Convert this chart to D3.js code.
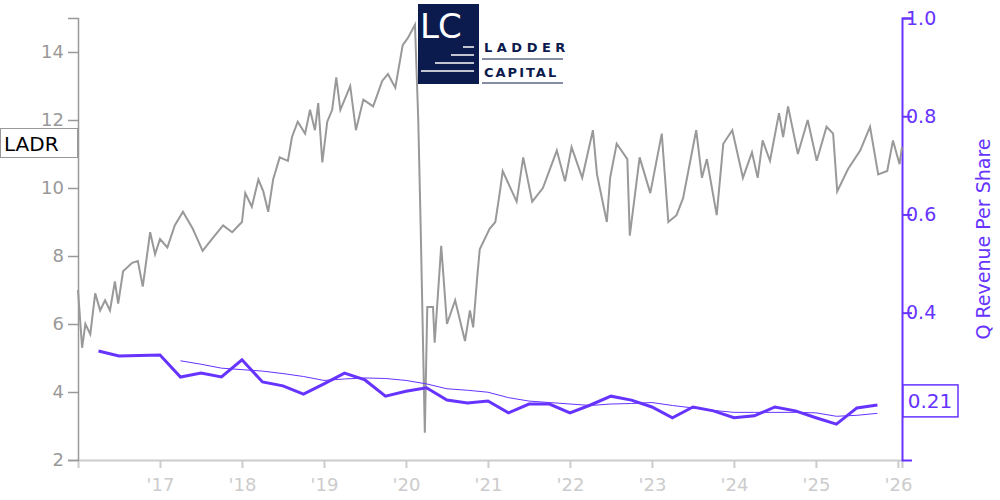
<!DOCTYPE html>
<html>
<head>
<meta charset="utf-8">
<script src="https://cdn.jsdelivr.net/npm/d3@7"></script>
<style>
  body { margin: 0; background: #fff; }
  text { font-family: "DejaVu Sans", sans-serif; }
</style>
</head>
<body>
<svg id="chart" width="1000" height="500"></svg>
<script>
// price (decimal year, close)
const priceYears = [2016.00,2016.05,2016.09,2016.15,2016.21,2016.27,2016.33,2016.39,2016.45,2016.49,2016.55,2016.66,2016.73,2016.79,2016.88,2016.94,
  2017.00,2017.09,2017.18,2017.28,2017.40,2017.52,2017.65,2017.77,2017.88,
  2018.00,2018.04,2018.12,2018.20,2018.26,2018.32,2018.38,2018.46,2018.56,2018.61,2018.68,2018.77,2018.83,2018.89,2018.93,2018.98,
  2019.04,2019.10,2019.15,2019.20,2019.32,2019.39,2019.48,2019.60,2019.71,2019.78,2019.87,2019.96,
  2020.02,2020.11,2020.15,2020.18,2020.21,2020.23,2020.26,2020.33,2020.35,2020.43,2020.50,2020.60,2020.72,2020.78,2020.82,2020.87,2020.90,
  2021.02,2021.09,2021.15,2021.18,2021.35,2021.43,2021.54,2021.67,2021.84,2021.94,
  2022.02,2022.15,2022.28,2022.33,2022.45,2022.49,2022.57,2022.70,2022.73,2022.85,2022.98,
  2023.12,2023.20,2023.30,2023.38,2023.54,2023.61,2023.67,2023.79,2023.87,2023.98,
  2024.11,2024.22,2024.29,2024.35,2024.44,2024.55,2024.60,2024.66,2024.78,2024.90,
  2025.01,2025.13,2025.21,2025.26,2025.39,2025.54,2025.66,2025.76,2025.87,2025.94,2026.02,2026.05];
const priceValues = [7.0,5.3,6.0,5.7,6.9,6.4,6.7,6.4,7.25,6.6,7.55,7.8,7.85,7.1,8.7,8.05,
  8.5,8.25,8.9,9.3,8.8,8.15,8.55,8.9,8.7,
  9.0,9.85,9.45,10.25,9.9,9.3,10.25,10.9,10.8,11.5,11.95,11.6,12.3,11.7,12.5,10.75,
  11.95,12.3,13.25,12.3,13.0,11.7,12.6,12.4,13.15,13.35,12.95,14.2,
  14.4,14.8,12.0,8.8,5.2,2.8,6.5,6.5,5.45,8.3,6.0,6.7,5.5,6.4,5.9,7.4,8.2,
  8.8,9.0,9.96,10.5,9.6,10.9,9.6,10.0,11.1,10.2,
  11.2,10.3,11.7,10.4,9.0,10.3,11.3,10.85,8.6,10.9,9.85,
  11.6,9.0,9.2,9.7,11.7,10.3,10.85,9.2,11.3,11.7,
  10.3,11.05,10.3,11.4,10.8,12.2,11.5,12.4,11.0,12.0,
  10.8,11.8,11.6,9.9,10.55,11.1,11.8,10.4,10.5,11.4,10.7,11.2];

// quarterly revenue per share
const revYears = [2016.25,2016.5,2016.75,2017.0,2017.25,2017.5,2017.75,2018.0,2018.25,2018.5,2018.75,2019.0,2019.25,2019.5,2019.75,
  2020.0,2020.25,2020.5,2020.75,2021.0,2021.25,2021.5,2021.75,2022.0,2022.25,2022.5,2022.75,2023.0,2023.25,2023.5,2023.75,
  2024.0,2024.25,2024.5,2024.75,2025.0,2025.25,2025.5,2025.75];
const revValues = [0.322,0.312,0.313,0.314,0.269,0.277,0.269,0.304,0.259,0.251,0.234,0.255,0.277,0.263,0.230,
  0.240,0.247,0.222,0.216,0.220,0.196,0.214,0.214,0.196,0.212,0.230,0.222,0.208,0.186,0.208,0.200,
  0.186,0.190,0.208,0.200,0.186,0.173,0.206,0.212];
// trailing average (thin line)
const avgYears = revYears.slice(4);
const avgValues = [0.302,0.295,0.287,0.284,0.281,0.276,0.270,0.262,0.265,0.267,0.266,0.262,0.255,0.245,0.242,0.238,0.227,
  0.220,0.217,0.214,0.211,0.214,0.215,0.217,0.211,0.206,0.201,0.197,0.197,0.197,0.197,0.196,0.189,0.191,0.195];

const leftTicks = [2, 4, 6, 8, 10, 12, 14];
const rightTicks = [0.2, 0.4, 0.6, 0.8, 1.0];
const yearTicks = [2017, 2018, 2019, 2020, 2021, 2022, 2023, 2024, 2025, 2026];
const lastRev = "0.21";

const PURPLE = "#6633ff", GREY = "#999";
const svg = d3.select("#chart");
const x = d3.scaleLinear().domain([2016, 2026.05]).range([78, 902]);
const yL = d3.scaleLinear().domain([2, 15]).range([460, 18]);
const yR = d3.scaleLinear().domain([0.1, 1.0]).range([460, 18]);

// bottom axis
const gx = svg.append("g").attr("transform", "translate(0,460)")
  .call(d3.axisBottom(x).tickValues(yearTicks).tickSize(8).tickFormat(d => "'" + String(d).slice(2)));
gx.select(".domain").attr("stroke", "#ccc").attr("stroke-width", 2);
gx.selectAll(".tick line").attr("stroke", "#ccc").attr("stroke-width", 2);
gx.selectAll("text").attr("fill", "#ccc").attr("font-size", 18).attr("dy", "1.1em");

// left axis
const gl = svg.append("g").attr("transform", "translate(78,0)")
  .call(d3.axisLeft(yL).tickValues(leftTicks).tickSize(10).tickSizeOuter(10));
gl.select(".domain").attr("stroke", GREY).attr("stroke-width", 1.5);
gl.selectAll(".tick line").attr("stroke", GREY).attr("stroke-width", 1.5);
gl.selectAll("text").attr("fill", GREY).attr("font-size", 18).attr("x", -14);

// right axis (0.2 label sits under the last-value box)
const gr = svg.append("g").attr("transform", "translate(902,0)")
  .call(d3.axisRight(yR).tickValues(rightTicks).tickSize(10).tickSizeOuter(10)
    .tickFormat(d => d === 0.2 ? "" : d3.format(".1f")(d)));
gr.select(".domain").attr("stroke", PURPLE).attr("stroke-width", 2);
gr.selectAll(".tick line").attr("stroke", PURPLE).attr("stroke-width", 2);
gr.selectAll("text").attr("fill", PURPLE).attr("font-size", 19).attr("x", 4);
svg.append("text").attr("transform", "translate(990,239) rotate(-90)")
  .attr("text-anchor", "middle").attr("fill", PURPLE).attr("font-size", 19)
  .text("Q Revenue Per Share");

// price line
svg.append("path")
  .attr("d", d3.line().x((d, i) => x(priceYears[i])).y(d => yL(d))(priceValues))
  .attr("fill", "none").attr("stroke", GREY).attr("stroke-width", 2);

// revenue lines
svg.append("path")
  .attr("d", d3.line().x((d, i) => x(avgYears[i])).y(d => yR(d))(avgValues))
  .attr("fill", "none").attr("stroke", PURPLE).attr("stroke-width", 1);
svg.append("path")
  .attr("d", d3.line().x((d, i) => x(revYears[i])).y(d => yR(d))(revValues))
  .attr("fill", "none").attr("stroke", PURPLE).attr("stroke-width", 3);

// last value label
const ly = yR(0.2);
svg.append("rect").attr("x", 903).attr("y", ly - 26).attr("width", 55).attr("height", 32)
  .attr("fill", "#fff").attr("stroke", PURPLE).attr("stroke-width", 1.5);
svg.append("text").attr("x", 930).attr("y", ly - 3).attr("text-anchor", "middle")
  .attr("fill", PURPLE).attr("font-size", 20).text(lastRev);

// ticker label
svg.append("rect").attr("x", 0.5).attr("y", 128.5).attr("width", 77).attr("height", 29)
  .attr("fill", "#fff").attr("stroke", GREY);
svg.append("text").attr("x", 4).attr("y", 151).attr("fill", "#000").attr("font-size", 20).text("LADR");

// logo
const logo = svg.append("g");
const NAVY = "#0b1b4d";
logo.append("rect").attr("x", 418).attr("y", 4).attr("width", 61).attr("height", 80).attr("fill", NAVY);
logo.append("text").attr("x", 420).attr("y", 38).attr("fill", "#fff").attr("font-size", 34)
  .attr("font-family", "Liberation Sans, sans-serif").attr("letter-spacing", -1).text("LC");
[[463, 47], [451, 55], [435, 63], [421, 71]].forEach(([x0, yy]) =>
  logo.append("line").attr("x1", x0).attr("x2", 474).attr("y1", yy).attr("y2", yy)
    .attr("stroke", "#fff").attr("stroke-width", 1.5));
logo.append("text").attr("x", 484).attr("y", 52).attr("fill", NAVY).attr("font-size", 13)
  .attr("font-weight", "bold").attr("letter-spacing", 4.5).text("LADDER");
logo.append("line").attr("x1", 482).attr("x2", 563).attr("y1", 59).attr("y2", 59).attr("stroke", NAVY);
logo.append("text").attr("x", 484).attr("y", 77).attr("fill", NAVY).attr("font-size", 13)
  .attr("font-weight", "bold").attr("letter-spacing", 2).text("CAPITAL");
logo.append("line").attr("x1", 482).attr("x2", 563).attr("y1", 83).attr("y2", 83).attr("stroke", NAVY);
</script>
</body>
</html>
